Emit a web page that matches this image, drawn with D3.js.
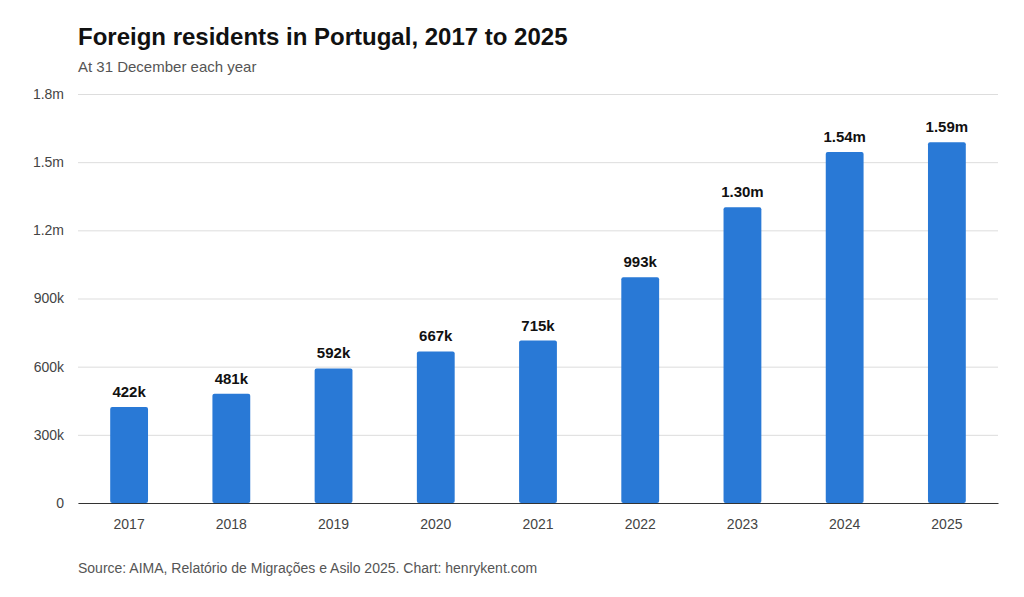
<!DOCTYPE html>
<html>
<head>
<meta charset="utf-8">
<title>Foreign residents in Portugal</title>
<script src="https://cdn.jsdelivr.net/npm/d3@7"></script>
<style>
  body { margin: 0; background: #fff; font-family: "Liberation Sans", Arial, sans-serif; }
  .title { font-size: 24px; font-weight: bold; fill: #111; }
  .sub { font-size: 15px; fill: #555; }
  .tick text { font-size: 14px; fill: #444; }
  .lbl { font-size: 15px; font-weight: bold; fill: #111; }
  .src { font-size: 14px; fill: #555; }
</style>
</head>
<body>
<svg id="chart" width="1024" height="597"></svg>
<script>
var years = ['2017', '2018', '2019', '2020', '2021', '2022', '2023', '2024', '2025'];
var residents = [422000, 481000, 592000, 667000, 715000, 993000, 1302000, 1545000, 1588000];
var labels = ['422k', '481k', '592k', '667k', '715k', '993k', '1.30m', '1.54m', '1.59m'];
var yTicks = [0, 300000, 600000, 900000, 1200000, 1500000, 1800000];
var yTickLabels = ['0', '300k', '600k', '900k', '1.2m', '1.5m', '1.8m'];

var svg = d3.select('#chart');
var plotLeft = 78, plotRight = 998, plotTop = 94, plotBottom = 503;

var x = d3.scaleBand().domain(years).range([plotLeft, plotRight]).paddingInner(0.63).paddingOuter(0.315);
var y = d3.scaleLinear().domain([0, 1800000]).range([plotBottom, plotTop]);

svg.append('text').attr('class', 'title').attr('x', 78).attr('y', 45).text('Foreign residents in Portugal, 2017 to 2025');
svg.append('text').attr('class', 'sub').attr('x', 78).attr('y', 72).text('At 31 December each year');

// gridlines + y labels
var yAxis = d3.axisLeft(y).tickValues(yTicks)
  .tickFormat(function(d, i) { return yTickLabels[i]; })
  .tickSize(-(plotRight - plotLeft)).tickPadding(14);
var gy = svg.append('g').attr('transform', 'translate(' + plotLeft + ',0)').call(yAxis);
gy.select('.domain').remove();
gy.selectAll('.tick line').attr('stroke', '#ddd');
gy.selectAll('.tick text').attr('x', -14);

// bars
svg.selectAll('.bar').data(residents).enter().append('rect')
  .attr('class', 'bar')
  .attr('x', function(d, i) { return x(years[i]); })
  .attr('y', function(d) { return y(d); })
  .attr('width', x.bandwidth())
  .attr('height', function(d) { return plotBottom - y(d); })
  .attr('rx', 2)
  .attr('fill', '#2979d6');

svg.selectAll('.lbl').data(residents).enter().append('text')
  .attr('class', 'lbl')
  .attr('text-anchor', 'middle')
  .attr('x', function(d, i) { return x(years[i]) + x.bandwidth() / 2; })
  .attr('y', function(d) { return y(d) - 10; })
  .text(function(d, i) { return labels[i]; });

// x axis
var gx = svg.append('g').attr('transform', 'translate(0,' + plotBottom + ')')
  .call(d3.axisBottom(x).tickSize(0).tickPadding(16));
gx.select('.domain').attr('stroke', '#333');

svg.append('text').attr('class', 'src').attr('x', 78).attr('y', 573)
  .text('Source: AIMA, Relatório de Migrações e Asilo 2025. Chart: henrykent.com');
</script>
</body>
</html>
